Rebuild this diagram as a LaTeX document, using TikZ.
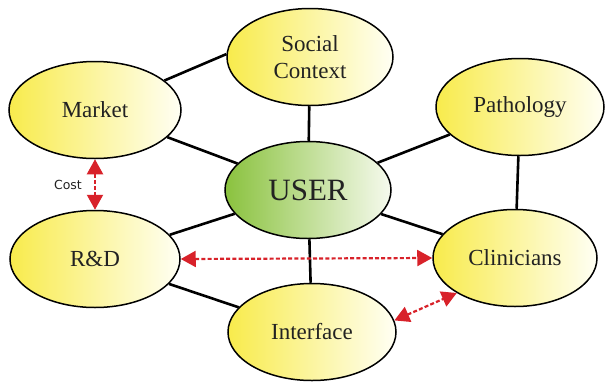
\documentclass[tikz,border=0pt]{standalone}
\usepackage{fontspec}
\setmainfont{Liberation Serif}
\newfontfamily\notefont{DejaVu Sans}
\usetikzlibrary{shapes.geometric,arrows.meta}

\definecolor{bubbleL}{HTML}{F8EB4C}
\definecolor{bubbleM}{HTML}{FCF5A8}
\definecolor{bubbleR}{HTML}{FFFFF4}
\definecolor{userL}{HTML}{8AC23E}
\definecolor{userM}{HTML}{AED47A}
\definecolor{userR}{HTML}{F6FAEE}
\definecolor{linkred}{HTML}{D8222A}
\definecolor{ink}{HTML}{222222}

\tikzset{
  bubble/.style={ellipse, draw=black, line width=1.5pt,
    left color=bubbleL, middle color=bubbleM, right color=bubbleR,
    minimum width=166pt, minimum height=97pt, inner sep=0pt,
    align=center, text=ink, font=\fontsize{23}{27}\selectfont},
  hub/.style={bubble, left color=userL, middle color=userM, right color=userR,
    font=\fontsize{31}{34}\selectfont},
  tie/.style={line width=2.6pt, black},
  redtip/.tip={Triangle[length=15pt,width=16pt]},
  flow/.style={line width=2.2pt, linkred, dash pattern=on 4pt off 2.2pt,
    redtip-redtip},
  note/.style={font=\notefont\fontsize{12.5}{14}\selectfont, text=ink}
}

\begin{document}
\begin{tikzpicture}[x=1pt,y=-1pt]
\useasboundingbox (0,0) rectangle (605,381);

% bubbles
\node[bubble] (social) at (310,57) {Social\\Context};
\node[bubble, minimum width=172pt] (market) at (95,110) {Market};
\node[bubble, minimum width=168pt] (path) at (520,107) {Pathology};
\node[hub] (user) at (308,190) {USER};
\node[bubble, minimum width=170pt] (rd) at (95,259) {R\&D};
\node[bubble, minimum width=164pt] (clin) at (515,258) {Clinicians};
\node[bubble, minimum width=168pt] (inter) at (312,332) {Interface};

% solid links
\draw[tie] (user) -- (social);
\draw[tie] (user) -- (market);
\draw[tie] (user) -- (path);
\draw[tie] (user) -- (rd);
\draw[tie] (user) -- (clin);
\draw[tie] (user) -- (inter);
\draw[tie] (market.23) -- (social.178);
\draw[tie] (path) -- (clin);
\draw[tie] (rd) -- (inter);

% red dashed exchanges
\draw[flow] (market.south) -- (rd.north);
\node[note] (cost) at (68,185) {Cost};
\draw[flow] (rd.east) -- (clin.west);
\draw[flow] (inter.8) -- (clin.211);
\end{tikzpicture}
\end{document}
